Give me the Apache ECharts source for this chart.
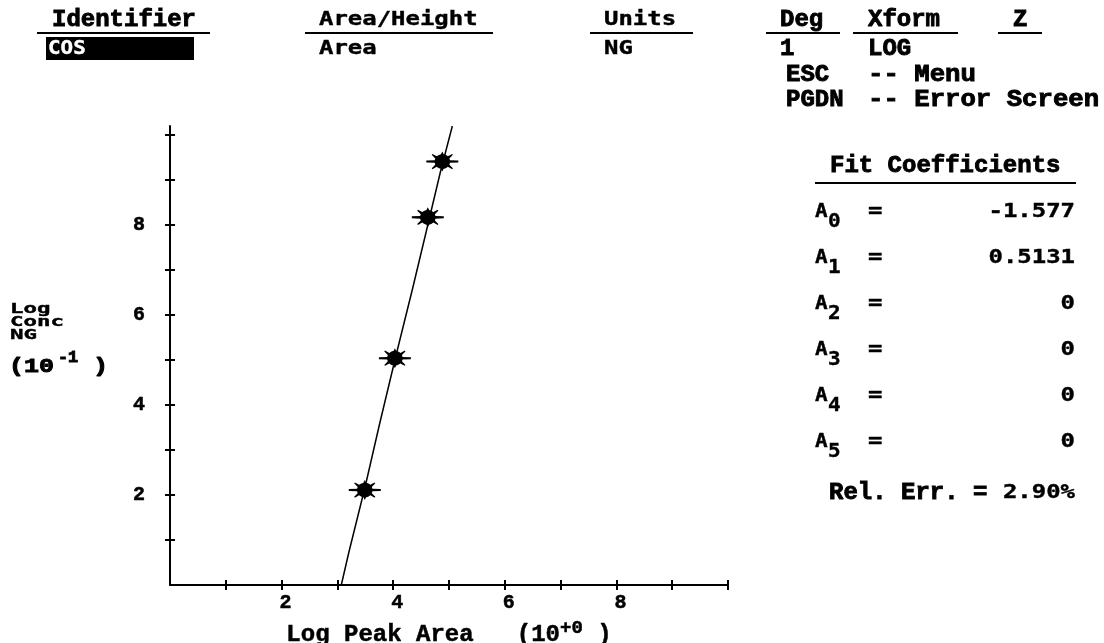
<!DOCTYPE html>
<html><head><meta charset="utf-8">
<script src="https://cdn.jsdelivr.net/npm/echarts@6/dist/echarts.min.js"></script>
<style>html,body{margin:0;padding:0;background:#fff}#c{width:1104px;height:643px}</style>
</head><body><div id="c"></div>
<script>
// ---- data ----
const xTickValues = [1,2,3,4,5,6,7,8,9,10];
const xLabelValues = [2,4,6,8];
const yTickValues = [1,2,3,4,5,6,7,8,9,10];
const yLabelValues = [2,4,6,8];
const calibPoints = [[3.49,2.11],[4.03,5.04],[4.62,8.17],[4.88,9.41]];
const fitCurve = [[3.07,0],[3.2,0.7],[3.5,2.2],[3.76,3.6],[4.05,5.1],[4.35,6.6],[4.62,8.0],[4.85,9.2],[5.06,10.2]];
const headerLabels = ['Identifier','Area/Height','Units','Deg','Xform','Z'];
const headerValues = ['COS','Area','NG','1','LOG',''];
const keyNames = ['ESC','PGDN'];
const keyActions = ['-- Menu','-- Error Screen'];
const coefIndex = ['0','1','2','3','4','5'];
const coefValues = ['-1.577','0.5131','0','0','0','0'];
const relErrText = 'Rel. Err. =';
const relErrValue = '2.90%';
const panelTitle = 'Fit Coefficients';
const yNameLines = ['Log','Conc','NG'];

// ---- layout / style ----
const SERIF = '"Liberation Mono", "Courier New", monospace';
const SANS = '"DejaVu Sans Mono", monospace';
const headerX = [52, 319, 604, 780, 868, 1013];
const headerLine = [[37,210],[305,493],[590,693],[766,840],[853,958],[998,1042]];
const headerSerif = [true, false, false, true, true, true];
const valueSerif = [false, false, false, true, true, true];

// star-burst marker shape (style only)
function burstPath() {
  const r = 7.8, step = 15, hb = 10;
  const spikes = [[0,16,1],[35,12.5,0.6],[90,10,0],[145,12.5,0.6],[180,16,1],[215,12.5,0.6],[270,10,0],[325,12.5,0.6]];
  const pts = [];
  const rad = a => a * Math.PI / 180;
  const onC = a => [16 + r * Math.cos(rad(a)), 10 + r * 0.95 * Math.sin(rad(a))];
  spikes.forEach((s, i) => {
    const a = s[0], d = s[1], hw = s[2];
    pts.push(onC(a - hb));
    const dx = Math.cos(rad(a)), dy = Math.sin(rad(a));
    const px = -dy, py = dx;
    if (hw > 0) {
      pts.push([16 + dx * d - px * hw, 10 + dy * d - py * hw]);
      pts.push([16 + dx * d + px * hw, 10 + dy * d + py * hw]);
    } else {
      pts.push([16 + dx * d, 10 + dy * d]);
    }
    pts.push(onC(a + hb));
    const next = i + 1 < spikes.length ? spikes[i + 1][0] : 360;
    for (let t = a + hb + step; t < next - hb; t += step) pts.push(onC(t));
  });
  return 'path://M' + pts.map(p => p[0].toFixed(2) + ',' + p[1].toFixed(2)).join('L') + 'Z';
}

function txt(x, y, text, serif, opts) {
  opts = opts || {};
  const fill = opts.fill || '#000';
  return {
    type: 'text', x: x, y: y,
    scaleX: opts.scaleX != null ? opts.scaleX : (serif ? 1 : 1.26),
    z: 10,
    style: {
      text: text,
      fontFamily: serif ? SERIF : SANS,
      fontWeight: 'bold',
      fontSize: opts.size || (serif ? 24 : 19),
      fill: fill,
      stroke: fill,
      lineWidth: serif ? 0.9 : 0.4,
      align: opts.align || 'left',
      verticalAlign: 'middle'
    }
  };
}
function hline(x1, x2, y) {
  return { type: 'line', z: 10, shape: {x1: x1, y1: y, x2: x2, y2: y}, style: {stroke: '#000', lineWidth: 2} };
}

const g = [];
headerLabels.forEach((t, i) => {
  g.push(txt(headerX[i], 20, t, headerSerif[i]));
  g.push(hline(headerLine[i][0], headerLine[i][1], 33));
});
// highlighted identifier
g.push({ type: 'rect', z: 9, shape: {x: 46, y: 37, width: 148, height: 23}, style: {fill: '#000'} });
headerValues.forEach((t, i) => {
  if (!t) return;
  g.push(txt(headerX[i] + (i === 0 ? -4 : 0), 49, t, valueSerif[i], i === 0 ? {fill: '#fff', scaleX: 1.1} : null));
});
keyNames.forEach((t, i) => {
  g.push(txt(786, 75 + 25 * i, t, true));
  g.push(txt(868, 75 + 25 * i, keyActions[i], true, {scaleX: 1.07}));
});
// fit coefficients panel
g.push(txt(830, 166, panelTitle, true));
g.push(hline(815, 1076, 183));
coefValues.forEach((v, i) => {
  const y = 212 + 46 * i;
  g.push(txt(815, y, 'A', false, {scaleX: 1.05, size: 20}));
  g.push(txt(828, y + 10, coefIndex[i], false, {scaleX: 1.05, size: 20}));
  g.push(txt(868, y, '=', false));
  g.push(txt(1075, y, v, false, {align: 'right'}));
});
g.push(txt(829, 493, relErrText, true));
g.push(txt(1075, 493, relErrValue, false, {align: 'right'}));
// y axis name
yNameLines.forEach((t, i) => {
  g.push(txt(10, 309 + 13 * i, t, false, {size: 14, scaleX: 1.6}));
});
g.push(txt(9, 367, '(10', true, {size: 20, scaleX: 1.25}));
g.push(txt(58, 358, '-1', true, {size: 16, scaleX: 1.05}));
g.push(txt(93, 367, ')', true, {size: 20, scaleX: 1.25}));

const axisCommon = {
  axisLine: {show: true, lineStyle: {color: '#000', width: 2}},
  splitLine: {show: false},
};
const labelStroke = {textBorderColor: '#000', textBorderWidth: 0.5};

const option = {
  backgroundColor: '#fff',
  animation: false,
  grid: {left: 170, right: 376, top: 126, bottom: 58, containLabel: false, outerBoundsMode: 'none'},
  xAxis: [
    Object.assign({}, axisCommon, {
      type: 'value', position: 'bottom', min: 0, max: 10, interval: 1,
      name: 'Log Peak Area   (10{sup|+0} )',
      nameLocation: 'middle', nameGap: 33,
      nameTextStyle: Object.assign({
        color: '#000', fontFamily: SERIF, fontWeight: 'bold', fontSize: 24,
        rich: {sup: Object.assign({color: '#000', fontFamily: SERIF, fontWeight: 'bold', fontSize: 19, padding: [0, 0, 14, 0]}, labelStroke)}
      }, labelStroke),
      axisTick: {show: true, inside: false, length: 5, customValues: xTickValues, lineStyle: {color: '#000', width: 2}},
      axisLabel: Object.assign({show: true, customValues: xLabelValues, margin: 8, color: '#000', fontFamily: SERIF, fontWeight: 'bold', fontSize: 20, padding: [0, 0, 0, 8]}, labelStroke)
    }),
    {
      type: 'value', position: 'bottom', min: 0, max: 10, interval: 1,
      axisLine: {show: false}, splitLine: {show: false}, axisLabel: {show: false},
      axisTick: {show: true, inside: true, length: 5, customValues: xTickValues, lineStyle: {color: '#000', width: 2}}
    }
  ],
  yAxis: [
    Object.assign({}, axisCommon, {
      type: 'value', position: 'left', min: 0, max: 10.2,
      axisTick: {show: true, inside: false, length: 5, customValues: yTickValues, lineStyle: {color: '#000', width: 2}},
      axisLabel: Object.assign({show: true, customValues: yLabelValues, margin: 25, color: '#000', fontFamily: SERIF, fontWeight: 'bold', fontSize: 20, padding: [0, 0, 8, 0]}, labelStroke)
    }),
    {
      type: 'value', position: 'left', min: 0, max: 10.2,
      axisLine: {show: false}, splitLine: {show: false}, axisLabel: {show: false},
      axisTick: {show: true, inside: true, length: 5, customValues: yTickValues, lineStyle: {color: '#000', width: 2}}
    }
  ],
  series: [
    {
      type: 'line', data: fitCurve, xAxisIndex: 0, yAxisIndex: 0,
      showSymbol: false, symbol: 'none', smooth: false, silent: true,
      lineStyle: {color: '#000', width: 1.5}, z: 2
    },
    {
      type: 'scatter', data: calibPoints, xAxisIndex: 0, yAxisIndex: 0,
      symbol: burstPath(),
      symbolSize: [32, 20], itemStyle: {color: '#000', opacity: 1}, z: 3
    }
  ],
  graphic: g
};
const chart = echarts.init(document.getElementById('c'), null, {renderer: 'canvas'});
chart.setOption(option);
</script></body></html>
